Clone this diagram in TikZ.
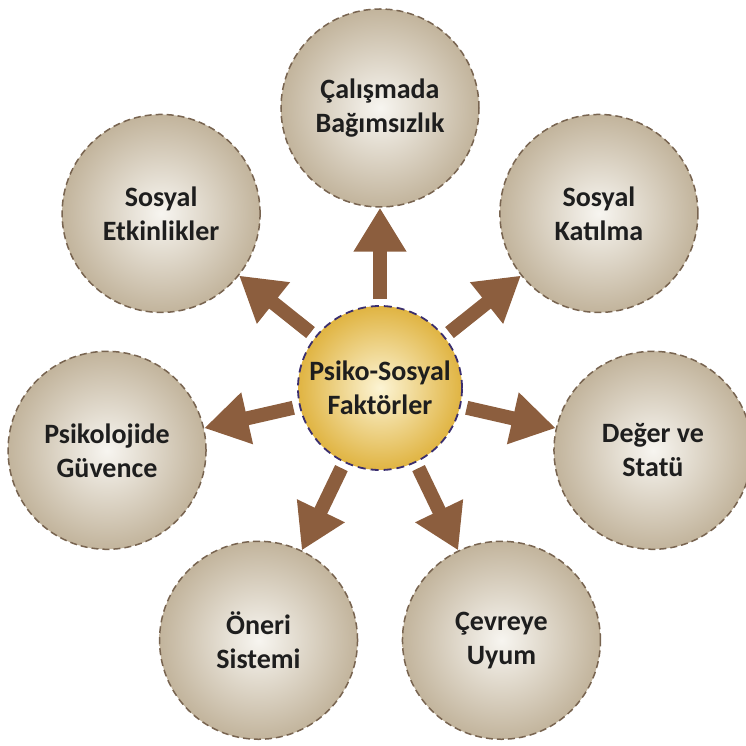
\documentclass[tikz,border=0pt]{standalone}
\usepackage{fontspec}
\setmainfont{Carlito}
\usetikzlibrary{arrows.meta}

\definecolor{arrowbrown}{RGB}{140,94,62}
\definecolor{tanedge}{RGB}{194,180,156}
\definecolor{tancenter}{RGB}{247,245,240}
\definecolor{tanline}{RGB}{120,100,80}
\definecolor{goldedge}{RGB}{224,180,66}
\definecolor{goldcenter}{RGB}{252,244,212}
\definecolor{navyline}{RGB}{58,46,110}
\definecolor{textgray}{RGB}{30,30,30}

\begin{document}
\begin{tikzpicture}[
    font=\bfseries\fontsize{28}{34}\selectfont,
    text=textgray,
    factor/.style={circle,minimum size=198pt,inner sep=0pt,align=center,
                   shading=radial,inner color=tancenter,outer color=tanedge,
                   draw=tanline,line width=1.5pt,dash pattern=on 7pt off 4pt},
    hub/.style={circle,minimum size=164pt,inner sep=0pt,align=center,
                shading=radial,inner color=goldcenter,outer color=goldedge,
                draw=navyline,line width=1.8pt,dash pattern=on 8pt off 5pt},
    arr/.style={-{Triangle[length=44pt,width=50pt]},line width=14pt,
                draw=arrowbrown,shorten <=6pt}
  ]
  \useasboundingbox (-380pt,-358pt) rectangle (366pt,388pt);

  \node[hub] (hub) at (0,0) {Psiko-Sosyal\\Faktörler};

  \node[factor] (indep)  at (90:280pt)     {Çalışmada\\Bağımsızlık};
  \node[factor] (partic) at (38.57:280pt)  {Sosyal\\Katılma};
  \node[factor] (status) at (-12.86:280pt) {Değer ve\\Statü};
  \node[factor] (adapt)  at (-64.29:280pt) {Çevreye\\Uyum};
  \node[factor] (suggest) at (-115.71:280pt) {Öneri\\Sistemi};
  \node[factor] (secure) at (-167.14:280pt) {Psikolojide\\Güvence};
  \node[factor] (social) at (141.43:280pt) {Sosyal\\Etkinlikler};

  \draw[arr] (hub) -- (indep);
  \draw[arr] (hub) -- (partic);
  \draw[arr] (hub) -- (status);
  \draw[arr] (hub) -- (adapt);
  \draw[arr] (hub) -- (suggest);
  \draw[arr] (hub) -- (secure);
  \draw[arr] (hub) -- (social);
\end{tikzpicture}
\end{document}
